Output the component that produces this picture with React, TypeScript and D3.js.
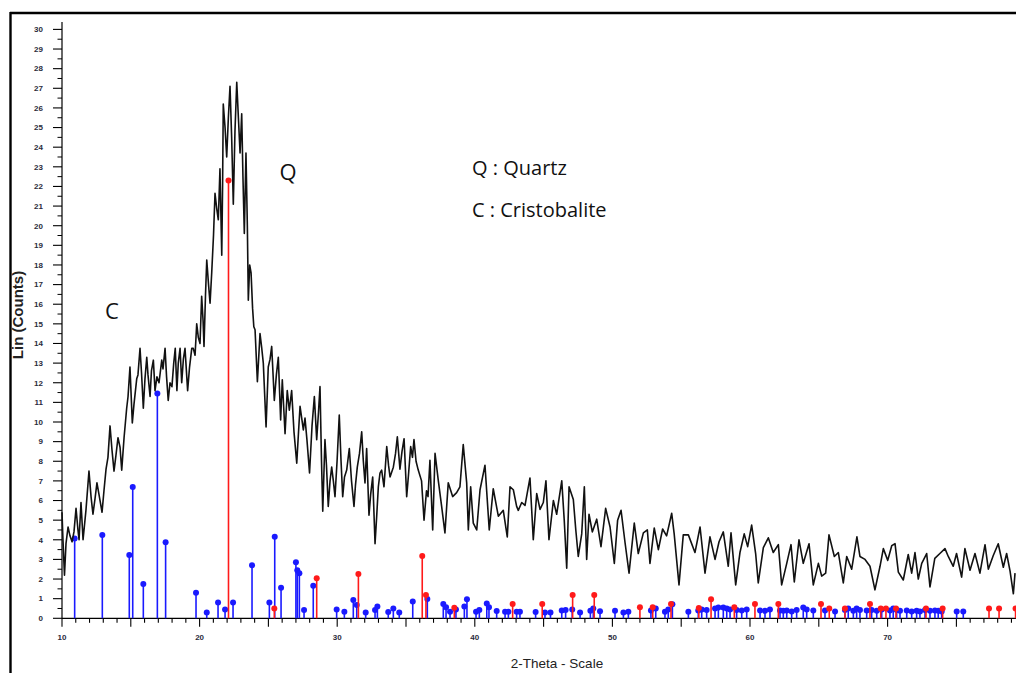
import React from "react";
import * as d3 from "d3";

// Diffraction scan: 2-theta (degrees) and intensity (Lin counts)
const scanTheta = [
  10.0, 10.07, 10.18, 10.29, 10.44, 10.58, 10.73, 10.87, 11.02, 11.16, 11.24, 11.38, 11.53, 11.74, 11.96, 12.11,
  12.25, 12.4, 12.54, 12.69, 12.91, 13.05, 13.2, 13.34, 13.49, 13.63, 13.78, 13.92, 14.07, 14.22, 14.34, 14.51,
  14.7, 14.8, 14.94, 15.11, 15.23, 15.43, 15.52, 15.67, 15.78, 15.91, 16.03, 16.16, 16.25, 16.4, 16.5, 16.64,
  16.76, 16.9, 17.05, 17.25, 17.34, 17.49, 17.6, 17.72, 17.85, 17.99, 18.12, 18.23, 18.35, 18.45, 18.58, 18.7,
  18.82, 18.94, 19.13, 19.27, 19.43, 19.54, 19.67, 19.79, 19.91, 20.03, 20.15, 20.25, 20.32, 20.43, 20.52, 20.65,
  20.76, 20.88, 21.01, 21.12, 21.24, 21.36, 21.48, 21.61, 21.67, 21.72, 21.85, 21.97, 22.09, 22.21, 22.33, 22.45,
  22.57, 22.7, 22.82, 22.94, 23.06, 23.15, 23.25, 23.37, 23.47, 23.54, 23.64, 23.74, 23.85, 23.94, 24.03, 24.2,
  24.39, 24.51, 24.63, 24.83, 24.99, 25.12, 25.24, 25.43, 25.58, 25.72, 25.89, 26.01, 26.21, 26.37, 26.52, 26.69,
  26.86, 27.06, 27.19, 27.3, 27.54, 27.66, 27.8, 27.99, 28.17, 28.34, 28.51, 28.64, 28.75, 28.86, 28.95, 29.11,
  29.22, 29.35, 29.48, 29.6, 29.72, 29.84, 29.99, 30.15, 30.28, 30.4, 30.53, 30.69, 30.88, 31.04, 31.22, 31.33,
  31.46, 31.62, 31.78, 31.9, 32.02, 32.14, 32.31, 32.43, 32.58, 32.75, 32.87, 32.99, 33.11, 33.23, 33.4, 33.6,
  33.73, 33.84, 34.08, 34.24, 34.37, 34.56, 34.71, 34.86, 35.05, 35.18, 35.34, 35.47, 35.58, 35.73, 35.89, 36.13,
  36.31, 36.49, 36.6, 36.74, 36.94, 37.11, 37.35, 37.59, 37.83, 38.07, 38.39, 38.68, 38.92, 39.16, 39.41, 39.53,
  39.7, 39.89, 40.14, 40.38, 40.74, 41.05, 41.34, 41.71, 42.07, 42.36, 42.56, 42.8, 43.04, 43.16, 43.41, 43.65,
  44.01, 44.25, 44.5, 44.74, 44.98, 45.17, 45.39, 45.71, 45.95, 46.32, 46.5, 46.68, 46.85, 47.16, 47.34, 47.52,
  47.77, 47.96, 48.13, 48.3, 48.54, 48.86, 49.17, 49.51, 49.83, 50.14, 50.38, 50.63, 50.92, 51.21, 51.59, 51.88,
  52.25, 52.54, 52.73, 53.04, 53.34, 53.65, 53.94, 54.31, 54.49, 54.84, 55.15, 55.52, 56.0, 56.37, 56.73, 57.09,
  57.46, 57.75, 58.06, 58.42, 58.62, 58.96, 59.27, 59.58, 59.83, 60.12, 60.41, 60.6, 60.97, 61.33, 61.69, 62.06,
  62.3, 62.67, 62.98, 63.22, 63.56, 63.87, 64.29, 64.6, 64.97, 65.21, 65.5, 65.74, 66.13, 66.42, 66.78, 67.03,
  67.39, 67.77, 67.99, 68.36, 68.72, 69.08, 69.45, 69.69, 70.01, 70.3, 70.54, 70.78, 71.14, 71.5, 71.75, 71.99,
  72.23, 72.48, 72.84, 73.08, 73.43, 73.8, 74.17, 74.41, 74.77, 75.01, 75.38, 75.62, 75.99, 76.35, 76.71, 77.08,
  77.32, 77.68, 78.04, 78.41, 78.65, 78.9, 79.14, 79.26,
];

const scanCounts = [
  5.4, 4.0, 2.2, 3.8, 4.65, 4.2, 3.9, 4.4, 5.6, 4.5, 4.0, 5.9, 4.0, 5.5, 7.5, 6.2,
  5.3, 6.1, 6.9, 6.3, 5.4, 6.5, 7.6, 8.2, 9.8, 8.6, 7.5, 8.3, 9.2, 8.7, 7.55, 9.2,
  10.7, 11.3, 12.8, 9.95, 10.9, 12.2, 12.4, 13.75, 12.5, 10.7, 12.2, 13.3, 12.4, 11.3, 12.6, 13.15,
  11.6, 12.3, 12.0, 13.15, 12.7, 13.75, 12.3, 11.1, 12.0, 11.8, 13.0, 13.75, 11.6, 13.0, 13.75, 12.0,
  13.2, 13.75, 11.6, 12.8, 13.75, 13.75, 13.4, 15.0, 14.3, 14.0, 16.4, 15.2, 13.85, 16.5, 18.25, 17.0,
  16.05, 17.6, 19.5, 21.65, 20.9, 20.3, 22.9, 18.5, 22.0, 26.2, 25.0, 23.5, 25.5, 27.1, 24.5, 21.1,
  24.8, 27.3, 25.5, 23.7, 25.7, 22.5, 19.6, 23.7, 20.0, 16.2, 18.0, 17.6, 15.8, 14.85, 14.7, 12.05,
  14.5, 13.8, 13.0, 9.75, 12.8, 13.2, 13.85, 11.1, 12.4, 13.3, 10.1, 12.15, 9.4, 11.6, 10.6, 11.6,
  9.5, 7.9, 9.5, 10.8, 9.6, 10.2, 9.1, 7.4, 9.8, 11.3, 9.1, 10.5, 11.8, 8.0, 5.45, 9.1,
  7.8, 5.7, 7.0, 7.7, 7.0, 6.2, 8.0, 10.35, 8.0, 6.2, 7.2, 7.55, 8.65, 7.0, 5.7, 6.8,
  7.7, 8.4, 9.5, 8.0, 6.9, 8.65, 5.25, 6.3, 7.2, 3.8, 5.2, 6.7, 7.4, 7.55, 6.7, 8.75,
  7.8, 7.2, 7.7, 8.4, 9.25, 7.6, 8.5, 9.15, 6.2, 7.3, 8.75, 8.2, 9.1, 8.0, 7.55, 7.0,
  5.0, 6.5, 6.2, 8.05, 4.5, 8.4, 7.0, 5.7, 4.35, 6.9, 6.2, 6.4, 6.7, 8.85, 6.9, 4.5,
  6.7, 4.85, 4.5, 6.55, 7.8, 4.5, 6.6, 5.2, 5.5, 4.15, 6.7, 6.55, 5.7, 5.5, 5.9, 5.75,
  7.15, 4.0, 6.35, 5.55, 5.9, 7.0, 4.0, 6.0, 5.3, 7.0, 5.0, 2.55, 6.7, 6.05, 4.5, 3.15,
  4.3, 6.7, 3.0, 5.3, 4.4, 5.05, 3.65, 5.6, 4.65, 2.8, 5.0, 5.5, 3.85, 2.3, 4.85, 3.3,
  4.35, 4.5, 2.8, 4.6, 3.5, 4.55, 4.2, 5.35, 4.3, 1.7, 4.25, 4.25, 3.35, 4.65, 2.3, 4.15,
  3.0, 3.9, 4.4, 2.65, 4.35, 1.7, 3.35, 4.3, 3.65, 4.75, 3.3, 1.8, 3.6, 4.1, 3.35, 3.75,
  1.7, 2.8, 3.75, 1.85, 4.0, 2.8, 3.8, 1.7, 2.8, 2.15, 2.3, 4.25, 3.15, 3.35, 1.8, 3.15,
  2.5, 4.15, 3.15, 3.0, 2.65, 1.45, 2.65, 3.55, 2.95, 3.7, 3.8, 2.35, 1.95, 3.25, 2.3, 3.35,
  2.0, 2.8, 3.3, 1.6, 3.05, 3.3, 3.55, 3.15, 2.65, 3.3, 2.1, 3.55, 2.45, 3.3, 2.3, 3.75,
  2.5, 3.2, 3.8, 2.6, 3.3, 2.4, 1.25, 2.3,
];

// Reference pattern sticks: [2-theta, intensity]
const cristobaliteSticks: [number, number][] = [
  [10.92, 4.07], [12.93, 4.24], [14.89, 3.22], [15.14, 6.69], [15.91, 1.75], [16.93, 11.45], [17.53, 3.87],
  [19.74, 1.3], [20.52, 0.3], [21.34, 0.8], [21.85, 0.45], [22.43, 0.8], [23.81, 2.7], [25.07, 0.8],
  [25.46, 4.16], [25.92, 1.55], [27.0, 2.85], [27.1, 2.45], [27.25, 2.3], [27.59, 0.42], [28.26, 1.66],
  [29.96, 0.45], [30.52, 0.34], [31.17, 0.93], [31.42, 0.68], [32.07, 0.3], [32.75, 0.42], [32.92, 0.6],
  [33.71, 0.32], [34.08, 0.5], [34.51, 0.3], [35.49, 0.85], [36.55, 0.98], [37.71, 0.73], [37.91, 0.56],
  [38.2, 0.34], [38.63, 0.45], [39.24, 0.6], [39.43, 0.97], [40.09, 0.34], [40.33, 0.42], [40.87, 0.76],
  [41.03, 0.56], [41.59, 0.37], [42.2, 0.34], [42.44, 0.34], [43.04, 0.34], [43.28, 0.34], [44.42, 0.32],
  [45.1, 0.3], [45.5, 0.3], [46.32, 0.4], [46.6, 0.42], [47.08, 0.45], [47.65, 0.3], [48.4, 0.38],
  [48.61, 0.5], [49.1, 0.36], [50.19, 0.38], [50.8, 0.3], [51.16, 0.34], [52.8, 0.4], [53.15, 0.5],
  [53.82, 0.34], [54.06, 0.45], [54.36, 0.72], [55.52, 0.34], [56.24, 0.4], [56.49, 0.45], [56.85, 0.42],
  [57.46, 0.5], [57.7, 0.55], [58.06, 0.55], [58.31, 0.5], [58.55, 0.45], [59.03, 0.42], [59.4, 0.4],
  [59.76, 0.45], [60.73, 0.4], [61.09, 0.38], [61.45, 0.45], [62.18, 0.4], [62.42, 0.38], [62.67, 0.4],
  [63.03, 0.35], [63.39, 0.42], [63.87, 0.55], [64.12, 0.45], [64.6, 0.4], [65.45, 0.4], [66.18, 0.35],
  [66.9, 0.42], [67.14, 0.5], [67.51, 0.38], [67.75, 0.5], [67.99, 0.42], [68.48, 0.4], [68.84, 0.42],
  [69.21, 0.38], [69.57, 0.45], [70.17, 0.4], [70.41, 0.5], [70.66, 0.42], [70.9, 0.38], [71.39, 0.4],
  [71.75, 0.35], [72.11, 0.38], [72.35, 0.35], [72.72, 0.42], [73.08, 0.38], [73.44, 0.4], [73.68, 0.38],
  [73.93, 0.35], [75.02, 0.35], [75.5, 0.35],
];

const quartzSticks: [number, number][] = [
  [22.1, 22.3], [25.43, 0.5], [28.51, 2.04], [31.54, 2.26], [36.18, 3.17], [36.45, 1.19], [38.51, 0.54],
  [42.75, 0.73], [44.9, 0.73], [47.11, 1.19], [48.68, 1.19], [52.0, 0.56], [52.93, 0.56], [54.26, 0.73],
  [56.28, 0.53], [57.17, 0.97], [58.86, 0.56], [60.36, 0.73], [62.06, 0.73], [65.16, 0.73], [65.76, 0.5],
  [66.9, 0.5], [68.72, 0.73], [69.5, 0.5], [69.88, 0.5], [70.61, 0.5], [72.79, 0.5], [74.0, 0.5],
  [77.37, 0.5], [78.1, 0.5], [79.3, 0.5],
];

const xTickLabels = [10, 20, 30, 40, 50, 60, 70];
const yTickLabels = d3.range(0, 31);

const W = 1016;
const H = 673;

export default function App() {
  const x = d3.scaleLinear().domain([10, 80]).range([62, 1025.2]);
  const y = d3.scaleLinear().domain([0, 30]).range([618.3, 29.4]);

  const line = d3
    .line<number>()
    .x((_, i) => x(scanTheta[i]))
    .y((d) => y(d));

  const xMinor = d3.range(10, 80, 1);
  const yMinor = d3.range(0.5, 30, 1);

  const stick = (data: [number, number][], color: string, key: string) =>
    data.map(([t, v], i) => (
      <g key={`${key}${i}`}>
        <line x1={x(t)} x2={x(t)} y1={y(0)} y2={y(v)} stroke={color} strokeWidth={1.6} />
        <circle cx={x(t)} cy={y(v)} r={3} fill={color} />
      </g>
    ));

  const tickFont = "'Liberation Sans', Arial, sans-serif";
  const noteFont = "'Open Sans', 'Noto Sans', sans-serif";

  return (
    <svg width={W} height={H} style={{ position: "absolute", left: 0, top: 0, background: "#fff" }}>
      <rect x={0} y={0} width={W} height={H} fill="#fff" />
      {/* frame */}
      <line x1={10} x2={W} y1={13} y2={13} stroke="#000" strokeWidth={2.4} />
      <line x1={10.5} x2={10.5} y1={12} y2={H} stroke="#000" strokeWidth={2.4} />

      {/* y axis */}
      <line x1={62} x2={62} y1={22} y2={y(0)} stroke="#000" strokeWidth={1.2} />
      {yTickLabels.map((v) => (
        <g key={`yt${v}`}>
          <line x1={53} x2={62} y1={y(v)} y2={y(v)} stroke="#000" strokeWidth={1.1} />
          <text
            x={43}
            y={y(v) + 2.8}
            textAnchor="end"
            fontFamily={tickFont}
            fontSize={8}
            fontWeight="bold"
            fill="#2b2b3b"
          >
            {v}
          </text>
        </g>
      ))}
      {yMinor.map((v) => (
        <line key={`ym${v}`} x1={57.5} x2={62} y1={y(v)} y2={y(v)} stroke="#000" strokeWidth={1} />
      ))}

      {/* x axis */}
      <line x1={62} x2={W} y1={y(0)} y2={y(0)} stroke="#000" strokeWidth={1.2} />
      {xMinor.map((t) => (
        <line
          key={`xm${t}`}
          x1={x(t)}
          x2={x(t)}
          y1={y(0)}
          y2={y(0) + (t % 5 === 0 ? 8.5 : 4.5)}
          stroke="#000"
          strokeWidth={1.1}
        />
      ))}
      {xTickLabels.map((t) => (
        <text
          key={`xl${t}`}
          x={x(t)}
          y={640}
          textAnchor="middle"
          fontFamily={tickFont}
          fontSize={8}
          fontWeight="bold"
          fill="#2b2b3b"
        >
          {t}
        </text>
      ))}

      {/* reference patterns */}
      {stick(cristobaliteSticks, "#1a1aff", "c")}
      {stick(quartzSticks, "#ff1a1a", "q")}

      {/* measured scan */}
      <path d={line(scanCounts) ?? ""} fill="none" stroke="#111" strokeWidth={1.6} strokeLinejoin="round" />

      {/* axis titles */}
      <text x={557} y={668} textAnchor="middle" fontFamily={tickFont} fontSize={13.5} fill="#222">
        2-Theta - Scale
      </text>
      <text
        transform="translate(23,315) rotate(-90)"
        textAnchor="middle"
        fontFamily={tickFont}
        fontSize={15}
        fontWeight="bold"
        fill="#222"
      >
        Lin (Counts)
      </text>

      {/* phase annotations */}
      <text x={288} y={180} textAnchor="middle" fontFamily={noteFont} fontSize={22} fill="#111">
        Q
      </text>
      <text x={112} y={319} textAnchor="middle" fontFamily={noteFont} fontSize={22} fill="#111">
        C
      </text>
      <text x={472} y={175} fontFamily={noteFont} fontSize={20} fill="#111">
        Q : Quartz
      </text>
      <text x={472} y={217} fontFamily={noteFont} fontSize={20} fill="#111">
        C : Cristobalite
      </text>
    </svg>
  );
}
